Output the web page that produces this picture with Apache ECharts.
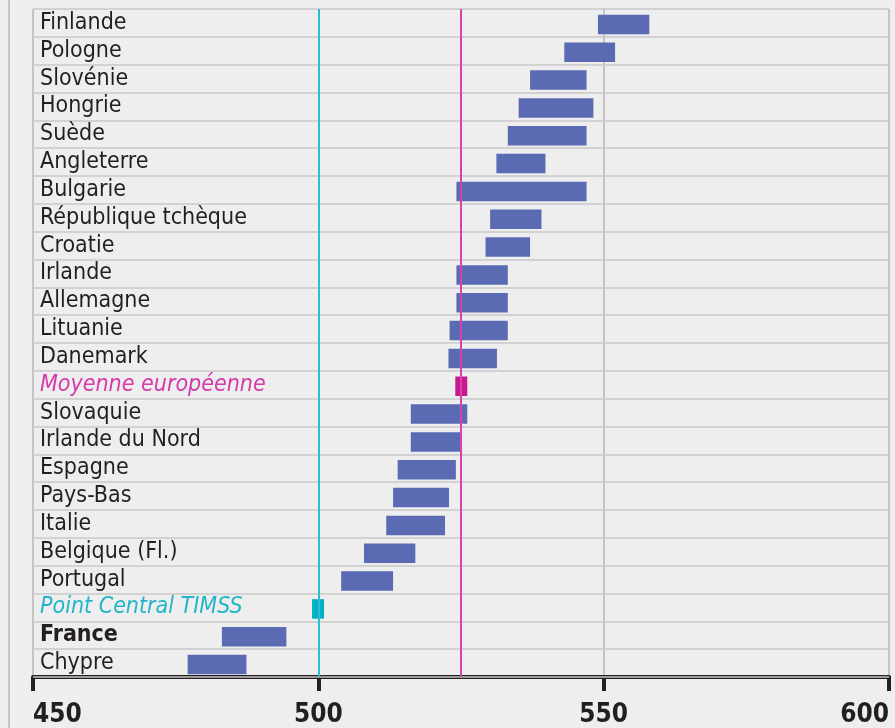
<!DOCTYPE html>
<html>
<head>
<meta charset="utf-8">
<script src="https://cdn.jsdelivr.net/npm/echarts@6/dist/echarts.min.js"></script>
<style>
html,body{margin:0;padding:0;background:#eeeeee;}
#chart{width:895px;height:728px;}
</style>
</head>
<body>
<div id="chart"></div>
<script>
const categories = ['Finlande','Pologne','Slovénie','Hongrie','Suède','Angleterre','Bulgarie','République tchèque','Croatie','Irlande','Allemagne','Lituanie','Danemark','Moyenne européenne','Slovaquie','Irlande du Nord','Espagne','Pays-Bas','Italie','Belgique (Fl.)','Portugal','Point Central TIMSS','France','Chypre'];
const lowValues  = [549.0,543.1,537.1,535.1,533.2,531.2,524.2,530.1,529.3,524.2,524.2,523.0,522.8,524.0,516.2,516.2,513.9,513.1,511.9,508.0,504.0,498.9,483.1,477.1];
const highValues = [558.0,552.0,547.0,548.2,547.0,539.8,547.0,539.1,537.1,533.2,533.2,533.2,531.3,526.1,526.1,525.0,524.1,522.9,522.2,517.0,513.1,501.0,494.4,487.4];
const referenceLines = [500, 525];
const xTicks = [450, 500, 550, 600];

const MEAN = 'Moyenne européenne';
const CENTRAL = 'Point Central TIMSS';
const FONT = "'Liberation Sans Narrow','DejaVu Sans Condensed','Arial Narrow',sans-serif";

const rangeData = categories.map((c, i) => [lowValues[i], highValues[i], i]);

function makeRender(markers) {
  return function (params, api) {
    const idx = api.value(2);
    const name = categories[idx];
    const isMarker = (name === MEAN || name === CENTRAL);
    if (isMarker !== markers) return null;
    const p1 = api.coord([api.value(0), idx]);
    const p2 = api.coord([api.value(1), idx]);
    const rowH = api.size([0, 1])[1];
    const bh = rowH * 0.7;
    let color = '#5a6bb4';
    if (name === MEAN) color = '#c8198f';
    if (name === CENTRAL) color = '#00b1c4';
    return {
      type: 'rect',
      shape: { x: p1[0], y: p1[1] - bh / 2 + 1.5, width: p2[0] - p1[0], height: bh },
      style: { fill: color }
    };
  };
}

const chart = echarts.init(document.getElementById('chart'));
chart.setOption({
  backgroundColor: '#eeeeee',
  animation: false,
  graphic: [{
    type: 'line',
    shape: { x1: 9, y1: 0, x2: 9, y2: 728 },
    style: { stroke: '#b8b8b8', lineWidth: 1.5 },
    z: 0
  }],
  grid: { left: 33, right: 6, top: 9, bottom: 50, containLabel: false },
  xAxis: {
    type: 'value',
    min: xTicks[0],
    max: xTicks[xTicks.length - 1],
    interval: 50,
    axisLine: { show: true, lineStyle: { color: '#231f20', width: 4 } },
    axisTick: { show: true, length: 14, lineStyle: { color: '#231f20', width: 4 } },
    axisLabel: {
      margin: 25,
      fontFamily: FONT,
      fontSize: 26,
      fontWeight: 'bold',
      color: '#231f20',
      alignMinLabel: 'left',
      alignMaxLabel: 'right'
    },
    splitLine: { show: true, lineStyle: { color: '#c4c4c4', width: 2 } }
  },
  yAxis: {
    type: 'category',
    data: categories,
    inverse: true,
    axisLine: { show: false },
    axisTick: { show: false },
    splitLine: { show: true, interval: 0, lineStyle: { color: '#c8c8c8', width: 1.5 } },
    axisLabel: {
      inside: true,
      interval: 0,
      margin: 7,
      fontFamily: FONT,
      fontSize: 23,
      color: '#231f20',
      formatter: function (v) {
        if (v === MEAN) return '{m|' + v + '}';
        if (v === CENTRAL) return '{c|' + v + '}';
        if (v === 'France') return '{b|' + v + '}';
        return v;
      },
      rich: {
        m: { fontFamily: FONT, fontSize: 23, fontStyle: 'italic', color: '#d63aa8' },
        c: { fontFamily: FONT, fontSize: 23, fontStyle: 'italic', color: '#22b5c9' },
        b: { fontFamily: FONT, fontSize: 23, fontWeight: 'bold', color: '#231f20' }
      }
    },
    z: 5
  },
  series: [
    {
      type: 'custom',
      name: 'ranges',
      renderItem: makeRender(false),
      encode: { x: [0, 1], y: 2 },
      data: rangeData,
      z: 2
    },
    {
      type: 'line',
      name: 'refs',
      data: [],
      z: 3,
      markLine: {
        silent: true,
        symbol: 'none',
        label: { show: false },
        lineStyle: { type: 'solid', width: 2 },
        data: [
          { xAxis: referenceLines[0], lineStyle: { color: '#2bbdd0', type: 'solid', width: 2 } },
          { xAxis: referenceLines[1], lineStyle: { color: '#d841ad', type: 'solid', width: 2 } }
        ]
      }
    },
    {
      type: 'custom',
      name: 'markers',
      renderItem: makeRender(true),
      encode: { x: [0, 1], y: 2 },
      data: rangeData,
      z: 4
    }
  ]
});
</script>
</body>
</html>
